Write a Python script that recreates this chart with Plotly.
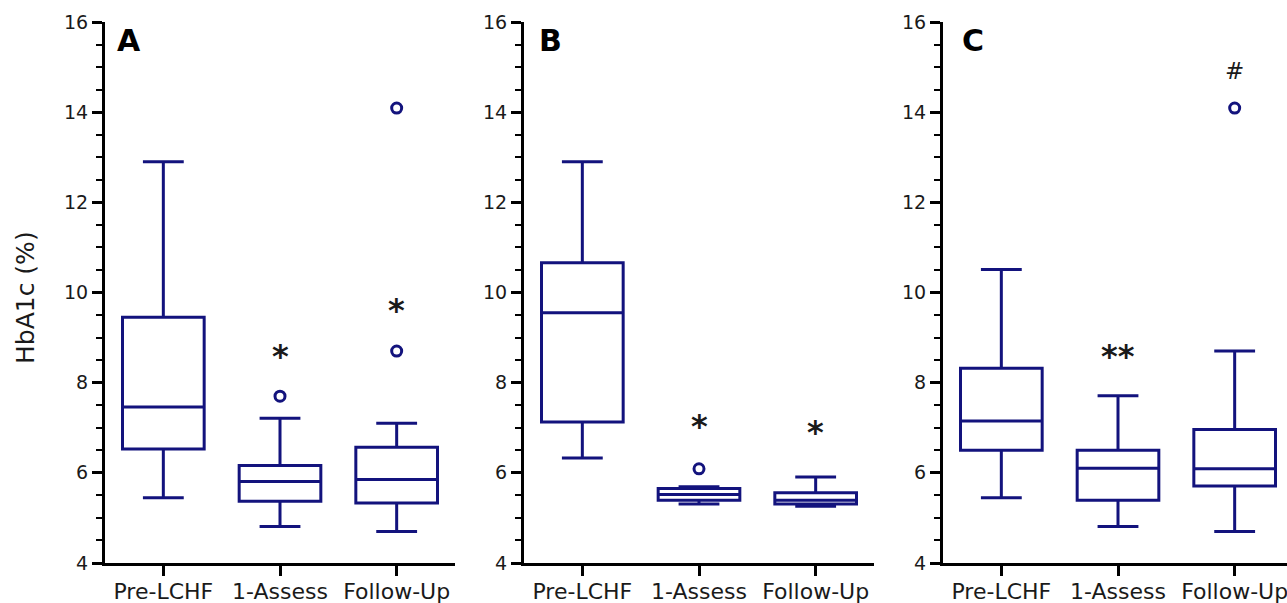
import plotly.graph_objects as go

categories = ["Pre-LCHF", "1-Assess", "Follow-Up"]
panels = ["A", "B", "C"]

# Box statistics per panel: [Pre-LCHF, 1-Assess, Follow-Up]
lower_A = [5.45, 4.81, 4.70]
q1_A = [6.53, 5.37, 5.33]
median_A = [7.46, 5.81, 5.85]
q3_A = [9.45, 6.16, 6.57]
upper_A = [12.90, 7.21, 7.10]

lower_B = [6.33, 5.31, 5.26]
q1_B = [7.13, 5.39, 5.31]
median_B = [9.55, 5.52, 5.39]
q3_B = [10.66, 5.65, 5.56]
upper_B = [12.90, 5.69, 5.91]

lower_C = [5.45, 4.81, 4.70]
q1_C = [6.50, 5.39, 5.71]
median_C = [7.15, 6.10, 6.09]
q3_C = [8.32, 6.50, 6.96]
upper_C = [10.51, 7.71, 8.70]

# Outliers (category, value)
outlier_cat_A = ["1-Assess", "Follow-Up", "Follow-Up"]
outlier_val_A = [7.70, 14.09, 8.70]
outlier_cat_B = ["1-Assess"]
outlier_val_B = [6.09]
outlier_cat_C = ["Follow-Up"]
outlier_val_C = [14.09]

# Significance markers (category, value, text)
sig_cat_A = ["1-Assess", "Follow-Up"]
sig_val_A = [8.74, 9.77]
sig_txt_A = ["*", "*"]
sig_cat_B = ["1-Assess", "Follow-Up"]
sig_val_B = [7.19, 7.06]
sig_txt_B = ["*", "*"]
sig_cat_C = ["1-Assess", "Follow-Up"]
sig_val_C = [8.74, 14.92]
sig_txt_C = ["**", "#"]

y_ticks = [4, 6, 8, 10, 12, 14, 16]

NAVY = "#13137d"
TXT = "#1a1a1a"
FONT = "DejaVu Sans"
W, H = 1287, 603

stats = {
    "A": (lower_A, q1_A, median_A, q3_A, upper_A, outlier_cat_A, outlier_val_A, sig_cat_A, sig_val_A, sig_txt_A),
    "B": (lower_B, q1_B, median_B, q3_B, upper_B, outlier_cat_B, outlier_val_B, sig_cat_B, sig_val_B, sig_txt_B),
    "C": (lower_C, q1_C, median_C, q3_C, upper_C, outlier_cat_C, outlier_val_C, sig_cat_C, sig_val_C, sig_txt_C),
}

# pixel layout
x_left_px = [105, 524, 943]
panel_w_px = 350
y_top_px, y_bot_px = 22, 563
letter_off_px = [10, 13, 17]

fig = go.Figure()
layout_axes = {}
annotations = []

for i, p in enumerate(panels):
    lo, q1, med, q3, up, oc, ov, sc, sv, st = stats[p]
    xa = "x" if i == 0 else f"x{i+1}"
    ya = "y" if i == 0 else f"y{i+1}"
    fig.add_trace(go.Box(
        x=categories, q1=q1, median=med, q3=q3, lowerfence=lo, upperfence=up,
        xaxis=xa, yaxis=ya, width=0.7, whiskerwidth=0.5,
        line=dict(color=NAVY, width=3), fillcolor="rgba(0,0,0,0)",
        boxpoints=False, showlegend=False, hoverinfo="skip",
    ))
    fig.add_trace(go.Scatter(
        x=oc, y=ov, mode="markers", xaxis=xa, yaxis=ya,
        marker=dict(symbol="circle-open", size=10, color=NAVY, line=dict(width=3, color=NAVY)),
        showlegend=False, hoverinfo="skip",
    ))
    for c, v, t in zip(sc, sv, st):
        is_hash = t == "#"
        annotations.append(dict(
            x=c, y=v, xref=xa, yref=ya,
            text=(t if is_hash else f"<b>{t}</b>"), showarrow=False,
            font=dict(family=FONT, size=(23 if is_hash else 32), color=TXT),
            xanchor="center", yanchor="middle",
            yshift=(0 if is_hash else -7),
        ))
    x0 = x_left_px[i] / W
    x1 = min((x_left_px[i] + panel_w_px) / W, 1.0)
    right = -0.5 + 3.0 * (x1 * W - x_left_px[i]) / panel_w_px
    key = "" if i == 0 else str(i + 1)
    layout_axes["xaxis" + key] = dict(
        domain=[x0, x1], anchor=ya, type="category", range=[-0.5, right],
        categoryorder="array", categoryarray=categories, automargin=False,
        showline=True, linecolor="black", linewidth=3,
        ticks="outside", ticklen=10, tickwidth=2.5, tickcolor="black",
        ticklabelstandoff=-3,
        tickfont=dict(family=FONT, size=22, color=TXT),
        showgrid=False, zeroline=False, fixedrange=True,
    )
    layout_axes["yaxis" + key] = dict(
        domain=[(H - y_bot_px) / H, (H - y_top_px) / H], anchor=xa,
        range=[4, 16], tickvals=y_ticks, automargin=False,
        showline=True, linecolor="black", linewidth=3,
        ticks="outside", ticklen=10, tickwidth=2.5, tickcolor="black",
        minor=dict(dtick=0.5, ticks="outside", ticklen=6, tickwidth=2, tickcolor="black"),
        tickfont=dict(family=FONT, size=19, color=TXT),
        showgrid=False, zeroline=False, fixedrange=True,
    )
    annotations.append(dict(
        x=letter_off_px[i] / panel_w_px, y=15.58, xref=f"{xa} domain", yref=ya,
        text=f"<b>{p}</b>", showarrow=False, xanchor="left", yanchor="middle",
        font=dict(family=FONT, size=30, color="black"),
    ))

annotations.append(dict(
    x=25 / W, y=(H - 298) / H, xref="paper", yref="paper", text="HbA1c (%)",
    textangle=-90, showarrow=False, xanchor="center", yanchor="middle",
    font=dict(family=FONT, size=25, color=TXT),
))

fig.update_layout(
    width=W, height=H, margin=dict(l=0, r=0, t=0, b=0, autoexpand=False),
    paper_bgcolor="white", plot_bgcolor="white",
    annotations=annotations, showlegend=False,
    **layout_axes,
)

fig.write_html("out.html", config={"displayModeBar": False})
